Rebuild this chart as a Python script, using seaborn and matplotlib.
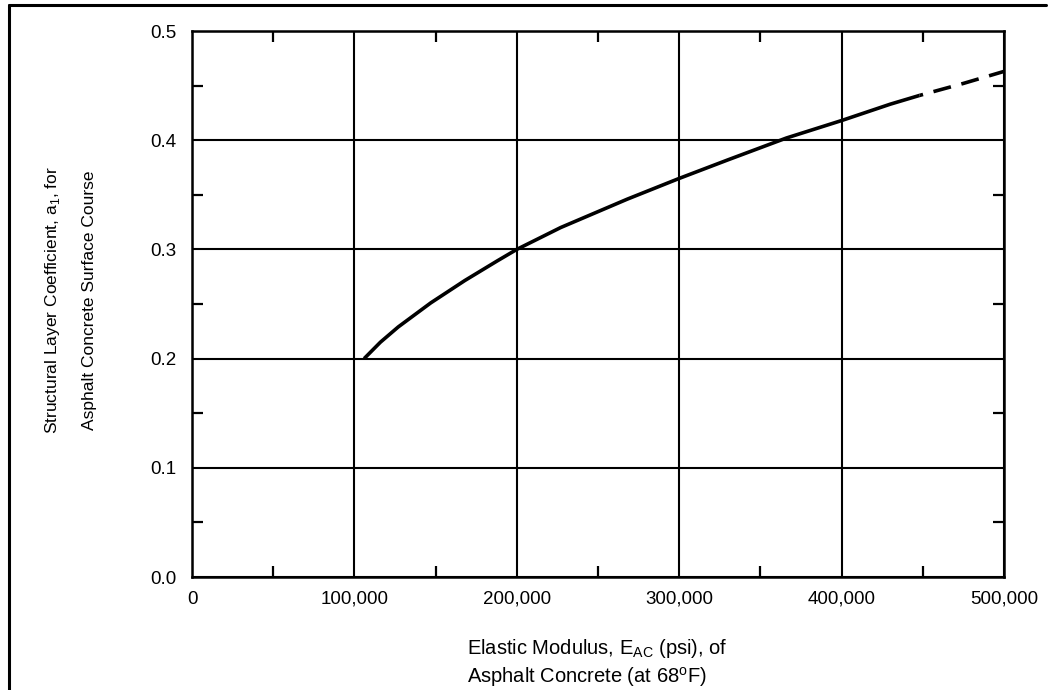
import matplotlib
matplotlib.use("Agg")
import matplotlib.pyplot as plt
import matplotlib.ticker as mticker
from matplotlib.lines import Line2D
import seaborn as sns
import pandas as pd

# ---- data ----
modulus_solid = [106000, 116000, 127000, 147000, 168000, 188000, 200000, 227000,
                 268000, 300000, 330000, 366000, 400000, 430000, 448000]
coef_solid = [0.200, 0.215, 0.229, 0.251, 0.2715, 0.2895, 0.300, 0.320,
              0.346, 0.365, 0.382, 0.402, 0.418, 0.433, 0.441]
modulus_dashed = [448000, 475000, 500000]
coef_dashed = [0.441, 0.452, 0.463]

x_ticks = [0, 100000, 200000, 300000, 400000, 500000]
y_ticks = [0.0, 0.1, 0.2, 0.3, 0.4, 0.5]

sns.set_theme(style="white")
plt.rcParams['font.family'] = ['Liberation Sans', 'DejaVu Sans']
plt.rcParams['mathtext.fontset'] = 'custom'
plt.rcParams['mathtext.rm'] = 'Liberation Sans'

fig = plt.figure(figsize=(10.48, 6.90), dpi=100, facecolor='white')
W, H = 1048, 690
ax = fig.add_axes([192 / W, 1 - 577 / H, (1004 - 192) / W, (577 - 31) / H])
ax.set_facecolor('white')

df_solid = pd.DataFrame({"E": modulus_solid, "a1": coef_solid})
df_dash = pd.DataFrame({"E": modulus_dashed, "a1": coef_dashed})

sns.lineplot(data=df_solid, x="E", y="a1", ax=ax, color="black", lw=2.6,
             sort=False, solid_capstyle='butt', solid_joinstyle='round', zorder=5)
sns.lineplot(data=df_dash, x="E", y="a1", ax=ax, color="black", lw=2.6,
             sort=False, linestyle=(4.0, (5.0, 3.0)), zorder=5)

ax.set_xlim(0, 500000)
ax.set_ylim(0, 0.5)
ax.set_xticks(x_ticks)
ax.set_yticks(y_ticks)
ax.xaxis.set_major_formatter(mticker.FuncFormatter(lambda v, p: f"{v:,.0f}"))
ax.yaxis.set_major_formatter(mticker.FuncFormatter(lambda v, p: f"{v:.1f}"))
ax.xaxis.set_minor_locator(mticker.MultipleLocator(50000))
ax.yaxis.set_minor_locator(mticker.MultipleLocator(0.05))

ax.grid(True, which='major', color='black', lw=1.5)
ax.tick_params(which='major', length=0, colors='black')
ax.tick_params(axis='x', which='major', pad=10, labelsize=13.5)
ax.tick_params(axis='y', which='major', pad=11, labelsize=13.5)
ax.tick_params(which='minor', direction='in', length=8, width=1.6, color='black',
               top=True, bottom=True, left=True, right=True)
for s in ax.spines.values():
    s.set_visible(True)
    s.set_color('black')
    s.set_linewidth(1.8)

ax.set_xlabel("")
ax.set_ylabel("")

# axis titles
fig.text(467 / W, 1 - 648 / H, r"Elastic Modulus, E$_\mathregular{AC}$ (psi), of",
         ha='left', va='center', fontsize=14.5, color='black')
fig.text(467 / W, 1 - 677 / H, r"Asphalt Concrete (at 68$^\mathregular{o}$F)",
         ha='left', va='center', fontsize=14.5, color='black')
fig.text(53 / W, 1 - 300 / H, r"Structural Layer Coefficient, a$_\mathregular{1}$, for",
         rotation=90, ha='center', va='center', fontsize=12.5, color='black')
fig.text(90 / W, 1 - 300 / H, "Asphalt Concrete Surface Course",
         rotation=90, ha='center', va='center', fontsize=12.5, color='black')

# figure frame (top and left edges visible)
fig.add_artist(Line2D([9 / W, 1046 / W], [1 - 4.5 / H, 1 - 4.5 / H],
                      transform=fig.transFigure, color='black', lw=2.2))
fig.add_artist(Line2D([9 / W, 9 / W], [0, 1 - 4.5 / H],
                      transform=fig.transFigure, color='black', lw=2.2))

fig.savefig("out.png", dpi=100, facecolor='white')
